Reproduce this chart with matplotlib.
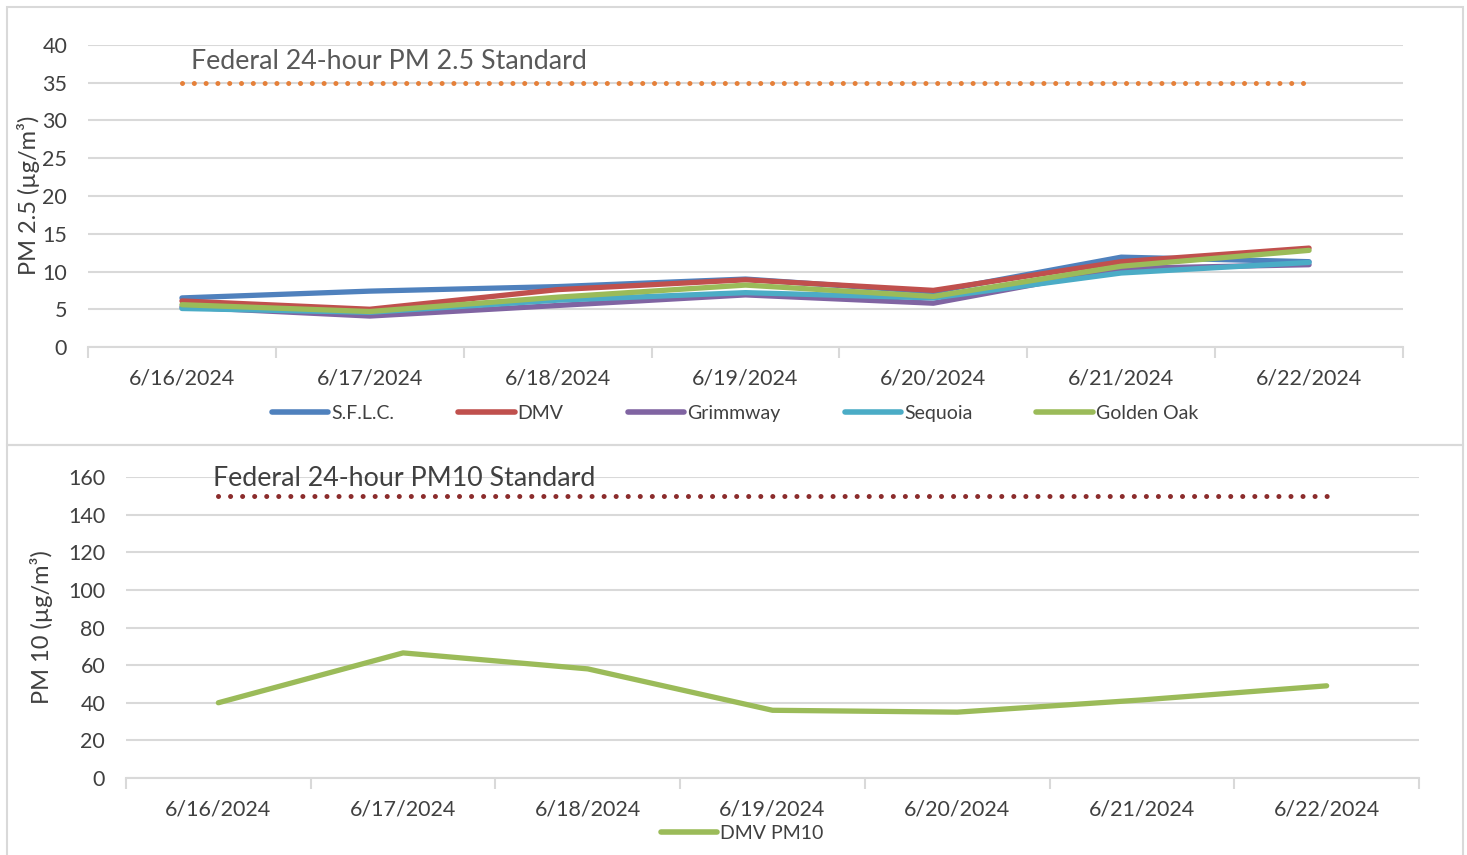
import matplotlib
matplotlib.use("Agg")
import matplotlib.pyplot as plt
from matplotlib.patches import Rectangle
from matplotlib.lines import Line2D

# data
dates = ["6/16/2024", "6/17/2024", "6/18/2024", "6/19/2024",
         "6/20/2024", "6/21/2024", "6/22/2024"]
sflc = [6.5, 7.4, 8.0, 9.0, 7.3, 11.9, 11.3]
dmv = [6.1, 5.0, 7.6, 8.9, 7.5, 11.3, 13.1]
grimmway = [5.3, 4.1, 5.5, 6.9, 5.8, 10.4, 10.9]
sequoia = [5.1, 4.6, 6.2, 7.2, 6.5, 9.8, 11.2]
golden_oak = [5.6, 4.7, 6.6, 8.2, 6.7, 10.7, 12.8]
pm25_standard = 35
dmv_pm10 = [40, 66.5, 58, 36, 35, 41.5, 49]
pm10_standard = 150

series25 = [("S.F.L.C.", sflc, "#4F81BD"),
            ("DMV", dmv, "#C0504D"),
            ("Grimmway", grimmway, "#8064A2"),
            ("Sequoia", sequoia, "#4BACC6"),
            ("Golden Oak", golden_oak, "#9BBB59")]

plt.rcParams['font.family'] = ['Lato', 'DejaVu Sans']
GRID = "#D9D9D9"
TXT = "#404040"

W, H = 1467, 855
fig = plt.figure(figsize=(W / 100, H / 100), dpi=100)


def px_axes(left, top, right, bottom):
    return fig.add_axes([left / W, 1 - bottom / H, (right - left) / W, (bottom - top) / H])


def style_axes(ax, ymax, ystep):
    n = len(dates)
    ax.set_xlim(-0.5, n - 0.5)
    ax.set_ylim(0, ymax)
    ax.set_yticks(range(0, ymax + 1, ystep))
    ax.yaxis.grid(True, color=GRID, linewidth=1.5)
    ax.set_axisbelow(True)
    for s in ["top", "right", "left"]:
        ax.spines[s].set_visible(False)
    ax.spines["bottom"].set_color(GRID)
    ax.spines["bottom"].set_linewidth(1.5)
    ax.set_xticks([i - 0.5 for i in range(n + 1)])
    ax.set_xticklabels([])
    ax.set_xticks(range(n), minor=True)
    ax.set_xticklabels(dates, minor=True)
    ax.tick_params(axis="x", which="major", length=8, width=1.5, color=GRID, direction="out")
    ax.tick_params(axis="x", which="minor", length=0, pad=15.5, labelsize=15.5, labelcolor=TXT)
    ax.tick_params(axis="y", length=0, pad=15, labelsize=15.5, labelcolor=TXT)


# chart frames
fig.patches.append(Rectangle((7 / W, 1 - 445 / H), 1456 / W, 438 / H,
                             transform=fig.transFigure, fill=False, edgecolor=GRID, linewidth=1.5))
fig.patches.append(Rectangle((7 / W, 1 - 860 / H), 1456 / W, 415 / H,
                             transform=fig.transFigure, fill=False, edgecolor=GRID, linewidth=1.5))

# top chart: PM 2.5
ax1 = px_axes(88, 45, 1403, 347)
style_axes(ax1, 40, 5)
x = range(len(dates))
ax1.plot([0, 6 - 0.02], [pm25_standard] * 2, color="#E5803A", linewidth=3.6,
         linestyle=(0, (0.01, 2.35)), dash_capstyle="round")
for name, vals, col in series25:
    ax1.plot(x, vals, color=col, linewidth=3.8, solid_capstyle="round",
             solid_joinstyle="round", label=name)
ax1.text(0.05, 36.8, "Federal 24-hour PM 2.5 Standard", fontsize=19.3, color="#595959",
         va="baseline")
fig.text(28 / W, 1 - 195 / H, "PM 2.5 (µg/m³)", rotation=90, fontsize=17,
         color=TXT, ha="center", va="center")
handles = [Line2D([], [], color=c, linewidth=4, solid_capstyle="round") for _, _, c in series25]
fig.legend(handles, [n for n, _, _ in series25], loc="center", ncol=5,
           bbox_to_anchor=(735 / W, 1 - 413 / H), frameon=False, fontsize=14,
           handlelength=2.9, handletextpad=0.15, columnspacing=3.3, labelcolor=TXT)

# bottom chart: PM10
ax2 = px_axes(126, 477, 1419, 778)
style_axes(ax2, 160, 20)
ax2.plot([0, 6], [pm10_standard] * 2, color="#8B2C2C", linewidth=3.6,
         linestyle=(0, (0.01, 2.4)), dash_capstyle="round")
ax2.plot(x, dmv_pm10, color="#9BBB59", linewidth=3.8, solid_capstyle="round",
         solid_joinstyle="round")
ax2.text(-0.03, 155, "Federal 24-hour PM10 Standard", fontsize=19.3, color="#404040",
         va="baseline")
fig.text(42 / W, 1 - 627 / H, "PM 10 (µg/m³)", rotation=90, fontsize=17,
         color=TXT, ha="center", va="center")
fig.legend([Line2D([], [], color="#9BBB59", linewidth=4, solid_capstyle="round")],
           ["DMV PM10"], loc="center", bbox_to_anchor=(742 / W, 1 - 833 / H),
           frameon=False, fontsize=14, handlelength=2.9, handletextpad=0.15,
           labelcolor=TXT, borderpad=0)

fig.savefig("out.png", dpi=100)
